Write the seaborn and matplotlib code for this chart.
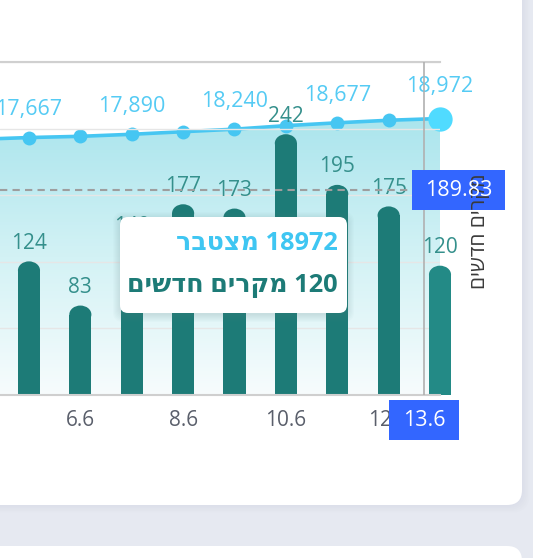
import numpy as np
import pandas as pd
import matplotlib
matplotlib.use("Agg")
import matplotlib.pyplot as plt
import seaborn as sns
from matplotlib.patches import Ellipse, FancyBboxPatch, Rectangle
from matplotlib.colors import LinearSegmentedColormap

# ---- data (June days) ----
dates = ["5.6", "6.6", "7.6", "8.6", "9.6", "10.6", "11.6", "12.6", "13.6"]
new_cases = [124, 83, 140, 177, 173, 242, 195, 175, 120]
# cumulative line also has the day just off the left edge (4.6)
cum_dates = ["4.6"] + dates
cum_values = [17543, 17667, 17750, 17890, 18067, 18240, 18482, 18677, 18852, 18972]
cum_labelled = ["5.6", "7.6", "9.6", "11.6", "13.6"]
mean_new = 189.83
tick_dates = ["6.6", "8.6", "10.6", "12.6"]
hover_date = "13.6"
hover_x = 7.69          # mouse position of the axis pointer

# ---- style ----
TEAL = "#1d7b77"
TEAL_HI = "#238a86"
TEAL_TXT = "#35908c"
BLUE_LINE = "#46c6f2"
BLUE_TXT = "#55cbf4"
POINTER = "#3366ff"

sns.set_style("white")
plt.rcParams["font.family"] = ["Open Sans", "DejaVu Sans"]

W, H = 533, 558
fig = plt.figure(figsize=(W / 100, H / 100), dpi=100)
fig.patch.set_facecolor("#e6e9f1")

# background cards, pixel coords
bg = fig.add_axes([0, 0, 1, 1], zorder=0)
bg.set_xlim(0, W)
bg.set_ylim(H, 0)
bg.axis("off")
for k in range(6):
    bg.add_patch(FancyBboxPatch((-40, -40), 562 + k * 1.5, 545 + k * 1.5,
                                boxstyle="round,pad=0,rounding_size=18",
                                fc="#c9cfdc", ec="none", alpha=0.06))
bg.add_patch(FancyBboxPatch((-40, -40), 562, 545, boxstyle="round,pad=0,rounding_size=15",
                            fc="white", ec="none"))
bg.add_patch(FancyBboxPatch((-40, 546), 562, 80, boxstyle="round,pad=0,rounding_size=15",
                            fc="white", ec="none"))

# plot axes
ax = fig.add_axes([0, 163 / H, 440 / W, 333 / H])
ax2 = ax.twinx()
ax2.set_zorder(1)
ax.set_zorder(2)
ax.patch.set_visible(False)
ax2.patch.set_visible(False)

# bars
bars = pd.DataFrame({"date": dates, "new": new_cases})
sns.barplot(data=bars, x="date", y="new", order=dates, ax=ax, color=TEAL,
            saturation=1, width=0.43, linewidth=0)
ax.patches[-1].set_facecolor(TEAL_HI)

Y1 = 309
ry = 9 * Y1 / 333
for p in list(ax.patches):
    x0, w, h = p.get_x(), p.get_width(), p.get_height()
    p.set_height(h - ry)
    p.set_clip_on(False)
    ax.add_patch(Ellipse((x0 + w / 2, h - ry), w, 2 * ry, fc=p.get_facecolor(),
                         ec="none", clip_on=False))

for i, v in enumerate(new_cases):
    ax.annotate(str(v), (i, v), xytext=(0, 9), textcoords="offset points",
                ha="center", va="baseline", color=TEAL_TXT, fontsize=15,
                annotation_clip=False)

ax.axhline(mean_new, color="#9e9e9e", lw=1.5, ls=(0, (3.5, 2.5)), zorder=5)
ax.axvline(hover_x, color="#b0b0b0", lw=1.2, zorder=4)

# cumulative area + line
x_line = np.arange(len(cum_dates)) - 1
line = pd.DataFrame({"x": x_line, "cum": cum_values})
poly = ax2.fill_between(x_line, cum_values, 0, color="none", lw=0)
grad = np.linspace(0, 1, 256).reshape(-1, 1)
cmap = LinearSegmentedColormap.from_list("area", ["#f7fcfd", "#d3f2f5", "#abe5ed"])
img = ax2.imshow(grad, extent=[x_line[0], x_line[-1], 0, max(cum_values)],
                 origin="lower", aspect="auto", cmap=cmap, zorder=0)
img.set_clip_path(poly.get_paths()[0], transform=ax2.transData)
sns.lineplot(data=line, x="x", y="cum", ax=ax2, color=BLUE_LINE, lw=2.6,
             marker="o", markersize=10, markeredgewidth=0, zorder=3)
ax2.scatter([x_line[-1]], [cum_values[-1]], s=17.5 ** 2, color="#50dbff",
            lw=0, zorder=4, clip_on=False)
for d in cum_labelled:
    i = cum_dates.index(d)
    off = 19 if d == hover_date else 16
    ax2.annotate(f"{cum_values[i]:,}", (x_line[i], cum_values[i]), xytext=(0, off),
                 textcoords="offset points", ha="center", va="baseline",
                 color=BLUE_TXT, fontsize=15.5, annotation_clip=False)

# axes cosmetics
ax.set_xlim(-0.564, 8.0)
ax.set_ylim(0, Y1)
ax2.set_ylim(0, 22850)
ax.set_yticks(np.linspace(0, Y1, 6))
ax.grid(axis="y", color="#e6e6e6", lw=1)
ax.set_xticks([dates.index(d) for d in tick_dates], tick_dates)
ax.tick_params(axis="x", length=0, pad=11, labelsize=15, labelcolor="#5a5f6b")
ax.tick_params(axis="y", length=0, labelleft=False)
ax2.tick_params(axis="y", length=0, labelright=False)
ax.set_xlabel("")
ax.set_ylabel("")
ax2.set_xlabel("")
ax2.set_ylabel("")
for a in (ax, ax2):
    for s in ("left", "right", "top", "bottom"):
        a.spines[s].set_visible(False)
ax.spines["top"].set_visible(True)
ax.spines["top"].set_color("#d0d0d0")
ax.spines["top"].set_linewidth(1.5)
ax.spines["bottom"].set_visible(True)
ax.spines["bottom"].set_color("#cfcfcf")
ax.spines["bottom"].set_linewidth(1.5)

# overlay: pointer labels, axis title, tooltip (pixel coords)
ov = fig.add_axes([0, 0, 1, 1], zorder=3)
ov.set_xlim(0, W)
ov.set_ylim(H, 0)
ov.axis("off")

# right axis title (visual order for RTL)
ov.text(480, 231, "םישדח םירקמ", rotation=90, ha="center", va="center",
        color="#3a3a3a", fontsize=15)

my = H - ax.transData.transform((0, mean_new))[1]
ov.add_patch(Rectangle((412, my - 20), 93, 40, fc=POINTER, ec="none"))
ov.text(458.5, my, f"{mean_new:.2f}", color="white", fontsize=15.5,
        ha="center", va="center")

hx = ax.transData.transform((hover_x, 0))[0]
ov.add_patch(Rectangle((hx - 35, 400), 70, 40, fc=POINTER, ec="none"))
ov.text(hx, 420, hover_date, color="white", fontsize=15.5, ha="center", va="center")

# tooltip
for k in range(8):
    ov.add_patch(FancyBboxPatch((120 - k, 217 - k + 2), 227 + 2 * k, 96 + 2 * k,
                                boxstyle="round,pad=0,rounding_size=10",
                                fc="#5a7f86", ec="none", alpha=0.025))
ov.add_patch(FancyBboxPatch((120, 217), 227, 96, boxstyle="round,pad=0,rounding_size=8",
                            fc="white", ec="none"))
hi = cum_dates.index(hover_date)
ov.text(338, 244, f"רבטצמ {cum_values[hi]}", ha="right", va="center",
        color="#3fc6f2", fontsize=18.3, fontweight="bold")
ov.text(338, 285, f"םישדח םירקמ {new_cases[dates.index(hover_date)]}", ha="right",
        va="center", color=TEAL, fontsize=18.3, fontweight="bold")

fig.savefig("out.png", dpi=100)
